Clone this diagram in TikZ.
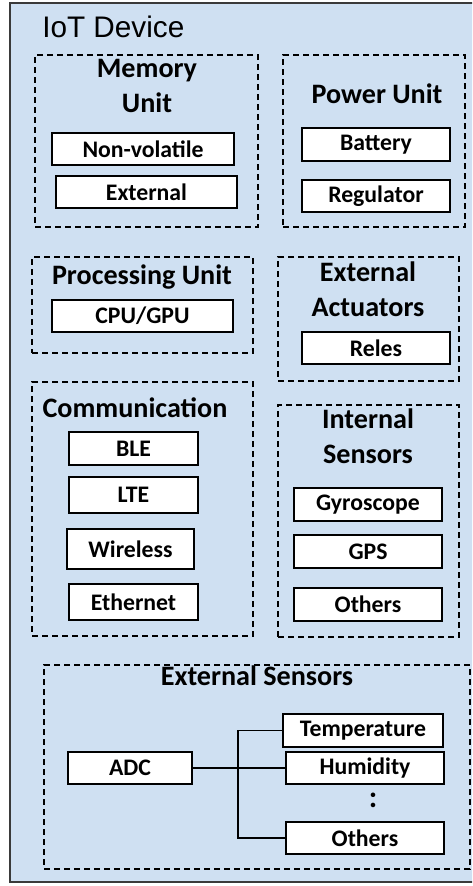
\documentclass[tikz,border=0pt]{standalone}
\usepackage{fontspec}
\setmainfont{Carlito}
\newfontfamily\headfont{Liberation Sans}
\usetikzlibrary{fit}
\definecolor{devfill}{HTML}{CFE0F2}
\definecolor{devline}{HTML}{3A3A3A}
\tikzset{
  unitbox/.style={draw=black, line width=1pt, dash pattern=on 4.5pt off 3pt, inner sep=0pt},
  partbox/.style={draw=black, fill=white, line width=1pt, inner sep=0pt,
    font=\fontsize{17.8}{21}\selectfont\bfseries},
  sz/.style 2 args={minimum width={#1*0.75pt}, minimum height={#2*0.75pt}},
  unittitle/.style={inner sep=0pt, align=center,
    font=\fontsize{21.1}{26}\selectfont\bfseries},
}
\begin{document}
\begin{tikzpicture}[x=0.75pt, y=-0.75pt]
\useasboundingbox (0,0) rectangle (472,886);
\clip (0,0) rectangle (472,886);

% device enclosure
\node[draw=devline, fill=devfill, line width=1.1pt, inner sep=0pt,
      fit={(10,3) (490,882)}] (dev) {};
\node[anchor=base west, inner sep=0pt, font=\headfont\fontsize{22.3}{26}\selectfont]
      (devname) at (42,37) {IoT Device};

% memory unit
\node[unitbox, fit={(35,55) (258,227)}] (mem) {};
\node[unittitle, anchor=base] (memt) at (147,112) {Memory\\Unit};
\node[partbox, sz={182}{32}] (nv) at (143,149) {Non-volatile};
\node[partbox, sz={181}{32}] (ext) at (146.5,192) {External};

% power unit
\node[unitbox, fit={(283,55) (465,227)}] (pwr) {};
\node[unittitle, anchor=base] (pwrt) at (377,103) {Power Unit};
\node[partbox, sz={148}{33}] (bat) at (376,144.5) {Battery};
\node[partbox, sz={148}{32}] (reg) at (376,196) {Regulator};

% processing unit
\node[unitbox, fit={(32,257) (253,353)}] (proc) {};
\node[unittitle, anchor=base] (proct) at (142,284) {Processing Unit};
\node[partbox, sz={181}{32}] (cpu) at (142.5,316) {CPU/GPU};

% external actuators
\node[unitbox, fit={(278,257) (459,381)}] (act) {};
\node[unittitle, anchor=base] (actt) at (368,316) {External\\Actuators};
\node[partbox, sz={148}{32}] (rel) at (376,348) {Reles};

% communication
\node[unitbox, fit={(32,382) (253,636)}] (com) {};
\node[unittitle, anchor=base] (comt) at (135,417) {Communication};
\node[partbox, sz={129}{33}] (ble) at (133.5,448.5) {BLE};
\node[partbox, sz={129}{36}] (lte) at (133.5,495) {LTE};
\node[partbox, sz={127}{40}] (wls) at (130.5,549) {Wireless};
\node[partbox, sz={129}{36}] (eth) at (133.5,602) {Ethernet};

% internal sensors
\node[unitbox, fit={(278,405) (459,637)}] (ins) {};
\node[unittitle, anchor=base] (inst) at (368,463) {Internal\\Sensors};
\node[partbox, sz={148}{33}] (gyr) at (368,504.5) {Gyroscope};
\node[partbox, sz={148}{33}] (gps) at (368,551.5) {GPS};
\node[partbox, sz={148}{33}] (ioth) at (368,604.5) {Others};

% external sensors
\node[unitbox, fit={(44,665) (470,869)}] (exs) {};
\node[unittitle, anchor=base] (exst) at (257,685) {External Sensors};
\node[partbox, sz={124}{32}] (adc) at (130,768) {ADC};
\node[partbox, sz={160}{33}] (tmp) at (363,730.5) {Temperature};
\node[partbox, sz={158}{32}] (hum) at (365,768) {Humidity};
\node[partbox, sz={158}{32}] (eoth) at (365,838) {Others};
\node[inner sep=0pt, font=\fontsize{23}{26}\selectfont\bfseries] (more) at (373,800) {:};

% bus from the converter to the sensors
\coordinate (bus) at (238,768);
\draw[line width=1pt] (adc.east) -- (hum.west);
\draw[line width=1pt] (tmp.west) -| (bus) |- (eoth.west);
\end{tikzpicture}
\end{document}
